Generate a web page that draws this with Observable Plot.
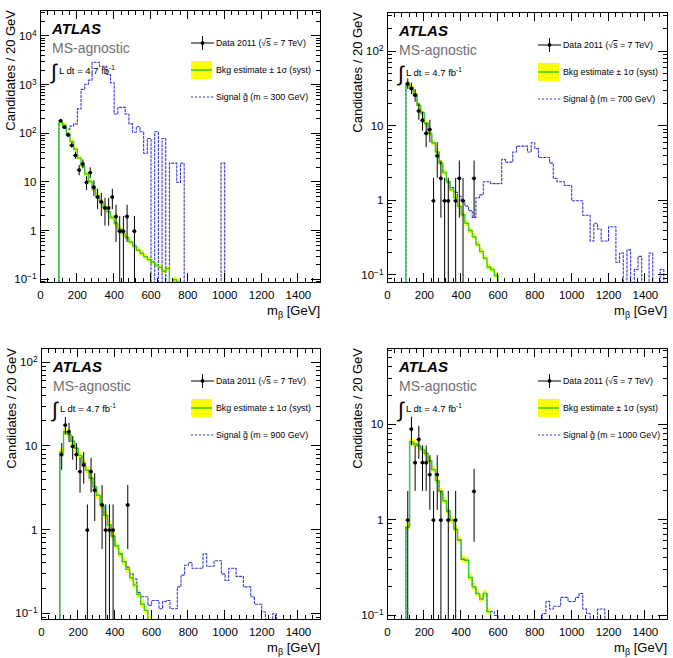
<!DOCTYPE html>
<html><head><meta charset="utf-8">
<script src="https://cdn.jsdelivr.net/npm/d3@7"></script>
<script src="https://cdn.jsdelivr.net/npm/@observablehq/plot@0.6"></script>
<style>
body{margin:0;background:#fff;}
#wrap{position:relative;width:673px;height:658px;background:#fff;}
#wrap svg{position:absolute;}
</style></head><body><div id="wrap"></div>
<script>
const FONT = "'Liberation Sans', Arial, Helvetica, sans-serif";
const binStart = 100, binWidth = 20, FLOOR = 1e-4;
const xTicks = [0,200,400,600,800,1000,1200,1400];
const xDomain = [0,1520];

// m = 300 GeV panel
const bkgM300 = [172,148,100,70,48,32,22,15,10.5,7.3,5.4,4.0,3.1,2.5,1.9,1.45,1.12,0.9,0.74,0.6,0.5,0.41,0.35,0.3,0.26,0.23,0.2,0.18,0.15,0.17,0.03,0.1,0.09];
const sigM300 = [172,148,125,145,160,325,820,1040,1270,2950,2950,2450,2450,1660,1120,255,350,350,255,160,108,140,110,40,80,0,110,0,80,0,25,25,10,25,0,0,0,0,0,0,0,0,0,0,25];
const dataMassM300 = [110,130,150,170,190,210,230,250,270,290,310,330,350,370,390,410,430,450,470,510];
const dataCountM300 = [185,137,95,58,36,18,24,10,16,8,5,4,3,3,5,2,1,1,2,1];

// m = 700 GeV panel
const bkgM700 = [36,33,27,19,15,11,8,6,4.5,3.2,2.4,1.8,1.4,1.1,0.85,0.65,0.5,0.4,0.33,0.26,0.21,0.17,0.13,0.12,0.1];
const sigM700 = [36,33,27,19,15,11,8,6,4.5,3.2,2.4,1.8,1.5,1.3,1.15,1.0,0.85,0.74,0.6,1.1,1.2,1.8,1.8,1.7,1.7,1.7,3.6,3.3,3.3,4.5,5.4,5.4,5.4,4.5,6.0,5.0,3.8,3.8,3.8,3.2,2.0,1.8,1.8,1.6,1.6,1.0,1.0,1.0,0.64,0.64,0.29,0.5,0.42,0.29,0.29,0.45,0.45,0.15,0.2,0.05,0.22,0.05,0.12,0.18,0.05,0.05,0.2,0.05,0.05,0.12];
const dataMassM700 = [110,130,150,170,190,210,230,250,270,290,310,330,370,390,410,470];
const dataCountM700 = [37,32,26,16,12,8,9,1,4,2,1,1,1,2,1,2];

// m = 900 GeV panel
const bkgM900 = [8.5,15,14,11.5,9.5,7.8,6.3,5.2,4.2,3.3,2.6,2.0,1.5,1.15,0.85,0.65,0.52,0.42,0.34,0.27,0.22,0.17,0.13,0.11,0.085];
const sigM900 = [8.5,15,14,11.5,9.5,7.8,6.3,5.2,4.2,3.3,2.6,2.0,1.5,1.15,0.85,0.65,0.52,0.42,0.36,0.3,0.26,0.18,0.16,0.16,0.126,0.144,0.144,0.115,0.14,0.144,0.115,0.115,0.21,0.29,0.38,0.41,0.35,0.35,0.35,0.52,0.37,0.37,0.43,0.43,0.30,0.25,0.35,0.35,0.28,0.28,0.21,0.21,0.16,0.13,0.13,0.105,0,0,0.1,0];
const dataMassM900 = [110,130,150,170,190,210,230,250,270,290,330,350,370,390,470];
const dataCountM900 = [8,18,15,10,8,5,6,1,5,3,2,1,1,1,2];

// m = 1000 GeV panel
const bkgM1000 = [0.85,6.6,6.3,6.0,5.5,5.0,4.2,3.4,2.6,2.0,1.6,1.25,1.0,0.8,0.62,0.39,0.38,0.25,0.2,0.17,0.15,0.17,0.11,0.08];
const sigM1000 = [0.85,6.6,6.3,6.0,5.5,5.0,4.2,3.4,2.6,2.0,1.6,1.25,1.0,0.8,0.62,0.39,0.38,0.25,0.2,0.17,0.15,0.17,0.11,0.11,0.1,0,0,0,0,0,0,0,0,0,0,0,0,0.105,0.14,0.117,0.125,0.125,0.155,0.155,0.14,0.14,0.155,0.17,0.117,0.105,0,0,0.117,0.117];
const dataMassM1000 = [110,130,150,170,190,210,230,250,270,290,330,370,470];
const dataCountM1000 = [1,9,4,7,4,4,3,1,3,1,1,1,2];

const systFrac = [0.12, 0.09, 0.10, 0.08];
const signalMass = ["300", "700", "900", "1000"];

const panels = [
  {left:0, top:0, w:336, h:330, ml:40, mr:16, mt:10, mb:48, yDomain:[0.088, 34200], bkg:bkgM300, sig:sigM300, dm:dataMassM300, dc:dataCountM300},
  {left:336, top:0, w:337, h:330, ml:51, mr:6, mt:12, mb:48, yDomain:[0.0805, 333], bkg:bkgM700, sig:sigM700, dm:dataMassM700, dc:dataCountM700},
  {left:0, top:330, w:336, h:328, ml:41, mr:16, mt:18, mb:39, yDomain:[0.0855, 148], bkg:bkgM900, sig:sigM900, dm:dataMassM900, dc:dataCountM900},
  {left:336, top:330, w:337, h:328, ml:51, mr:6, mt:18, mb:39, yDomain:[0.0908, 63], bkg:bkgM1000, sig:sigM1000, dm:dataMassM1000, dc:dataCountM1000}
];

const GREEN = "#33cc33", YELLOW = "#ffff00", BLUE = "#3535d5";

function steps(values) {
  const pts = [{x: binStart, y: FLOOR}];
  values.forEach((v, i) => {
    const lo = binStart + i * binWidth, hi = lo + binWidth;
    const y = v > 0 ? v : FLOOR;
    pts.push({x: lo, y}, {x: hi, y});
  });
  pts.push({x: binStart + values.length * binWidth, y: FLOOR});
  return pts;
}

function fmtY(d) {
  const e = Math.round(Math.log10(d));
  if (e === 0) return "1";
  if (e === 1) return "10";
  return "10^" + e;
}

const wrap = document.getElementById("wrap");

panels.forEach((p, idx) => {
  const {w, h, ml, mr, mt, mb, yDomain} = p;
  const fw = w - ml - mr, fh = h - mt - mb;
  const syst = systFrac[idx];
  const band = p.bkg.map((v, i) => ({lo: binStart + i * binWidth, hi: binStart + (i + 1) * binWidth, v}))
    .filter(d => d.v > 0)
    .map(d => ({lo: d.lo, hi: d.hi, y1: d.v * (1 - syst), y2: d.v * (1 + syst)}));
  const data = p.dm.map((m, i) => ({m, n: p.dc[i]}));
  const lo = Math.log10(yDomain[0]), hi = Math.log10(yDomain[1]);
  const yMajor = [], yMinor = [];
  for (let e = Math.floor(lo); e <= Math.ceil(hi); e++) {
    const b = Math.pow(10, e);
    if (b >= yDomain[0] && b <= yDomain[1]) yMajor.push(b);
    for (let k = 2; k <= 9; k++) { const v = k * b; if (v >= yDomain[0] && v <= yDomain[1]) yMinor.push(v); }
  }
  const xMinor = d3.range(40, 1520, 40).filter(v => v % 200 !== 0);

  const svg = Plot.plot({
    width: w, height: h, marginLeft: ml, marginRight: mr, marginTop: mt, marginBottom: mb,
    x: {domain: xDomain, label: null},
    y: {type: "log", domain: yDomain, label: null},
    style: {fontFamily: FONT, fontSize: "11.5px", color: "black", background: "white", overflow: "visible"},
    marks: [
      Plot.rect(band, {x1: "lo", x2: "hi", y1: "y1", y2: "y2", fill: YELLOW, clip: true}),
      Plot.line(steps(p.sig), {x: "x", y: "y", stroke: BLUE, strokeWidth: 1.1, strokeDasharray: "2.2,1.8", clip: true}),
      Plot.line(steps(p.bkg), {x: "x", y: "y", stroke: GREEN, strokeWidth: 1.4, clip: true}),
      Plot.ruleX(data, {x: "m", y1: d => Math.max(d.n - Math.sqrt(d.n), FLOOR), y2: d => d.n + Math.sqrt(d.n), stroke: "black", strokeWidth: 1, clip: true}),
      Plot.ruleY(data, {y: "n", x1: d => d.m - binWidth / 2, x2: d => d.m + binWidth / 2, stroke: "black", strokeWidth: 1, clip: true}),
      Plot.dot(data, {x: "m", y: "n", r: 1.9, fill: "black", stroke: null}),
      Plot.frame({stroke: "black", strokeWidth: 1}),
      Plot.axisX({ticks: xTicks, tickSize: 0, tickPadding: 8, tickFormat: d => String(d), label: null}),
      Plot.axisY({ticks: yMajor, tickSize: 0, tickPadding: 4, tickFormat: fmtY, label: null})
    ]
  });
  svg.style.left = p.left + "px";
  svg.style.top = p.top + "px";

  const s = d3.select(svg);
  s.selectAll('g[aria-label="y-axis tick label"] text').each(function () {
    const t = this.textContent;
    if (t.includes("^")) {
      const [b, e] = t.split("^");
      const sel = d3.select(this);
      sel.text(b);
      sel.append("tspan").attr("dy", "-0.5em").attr("font-size", "0.72em").text(e.replace("-", "\u2212"));
    }
  });

  // inward ticks on all four sides, positioned with Plot's own scales
  const X = svg.scale("x"), Y = svg.scale("y");
  const tg = s.append("g").attr("stroke", "black").attr("stroke-width", 1).attr("shape-rendering", "crispEdges");
  const tick = (x1, y1, x2, y2) => tg.append("line").attr("x1", x1).attr("y1", y1).attr("x2", x2).attr("y2", y2);
  const yb = mt + fh, yt = mt, xl = ml, xr = ml + fw;
  xTicks.forEach(v => { const px = X.apply(v); tick(px, yb, px, yb - 9); tick(px, yt, px, yt + 9); });
  xMinor.forEach(v => { const px = X.apply(v); tick(px, yb, px, yb - 4.5); tick(px, yt, px, yt + 4.5); });
  yMajor.forEach(v => { const py = Y.apply(v); tick(xl, py, xl + 9, py); tick(xr, py, xr - 9, py); });
  yMinor.forEach(v => { const py = Y.apply(v); tick(xl, py, xl + 4.5, py); tick(xr, py, xr - 4.5, py); });

  const g = s.append("g").attr("font-family", FONT).attr("text-anchor", "start").attr("fill", "black");
  // axis titles
  g.append("text").attr("transform", `translate(${ml - 25},${mt}) rotate(-90)`)
    .attr("text-anchor", "end").attr("font-size", 13).text("Candidates / 20 GeV");
  const xt = g.append("text").attr("x", ml + fw).attr("y", mt + fh + 33).attr("text-anchor", "end").attr("font-size", 13);
  xt.append("tspan").text("m");
  xt.append("tspan").attr("font-size", 9).attr("dy", 3).text("\u03b2");
  xt.append("tspan").attr("dy", -3).text(" [GeV]");

  // labels
  g.append("text").attr("x", ml + 12).attr("y", mt + 24).attr("font-size", 15).attr("font-weight", "bold").attr("font-style", "italic").text("ATLAS");
  g.append("text").attr("x", ml + 12).attr("y", mt + 43).attr("font-size", 14).attr("fill", "#707070").text("MS-agnostic");
  g.append("text").attr("x", ml + 11).attr("y", mt + 69).attr("font-size", 21).text("\u222b");
  const lum = g.append("text").attr("x", ml + 19).attr("y", mt + 64).attr("font-size", 9.5);
  lum.append("tspan").text("L dt = 4.7 fb");
  lum.append("tspan").attr("dy", -4).attr("font-size", 6.5).text("-1");

  // legend
  const R = ml + fw, sx0 = R - 129, sx1 = R - 106, tx = R - 104;
  const yD = mt + 33;
  g.append("line").attr("x1", sx0).attr("x2", sx1).attr("y1", yD).attr("y2", yD).attr("stroke", "black");
  g.append("line").attr("x1", (sx0 + sx1) / 2).attr("x2", (sx0 + sx1) / 2).attr("y1", yD - 7).attr("y2", yD + 7).attr("stroke", "black");
  g.append("circle").attr("cx", (sx0 + sx1) / 2).attr("cy", yD).attr("r", 1.9).attr("fill", "black");
  const t1 = g.append("text").attr("x", tx).attr("y", yD + 3).attr("font-size", 8.8);
  t1.append("tspan").text("Data 2011 (\u221a");
  t1.append("tspan").style("text-decoration", "overline").text("s");
  t1.append("tspan").text(" = 7 TeV)");

  const yB = mt + 51;
  g.append("rect").attr("x", sx0).attr("y", yB).attr("width", 21).attr("height", 18).attr("fill", YELLOW);
  g.append("line").attr("x1", sx0).attr("x2", sx0 + 21).attr("y1", yB + 9).attr("y2", yB + 9).attr("stroke", GREEN).attr("stroke-width", 1.5);
  g.append("text").attr("x", tx).attr("y", yB + 12).attr("font-size", 8.8).text("Bkg estimate \u00b1 1\u03c3 (syst)");

  const yS = mt + 87;
  g.append("line").attr("x1", sx0).attr("x2", sx1).attr("y1", yS).attr("y2", yS).attr("stroke", BLUE).attr("stroke-width", 1.1).attr("stroke-dasharray", "2.2,1.8");
  g.append("text").attr("x", tx).attr("y", yS + 3).attr("font-size", 8.8).text("Signal g\u0303 (m = " + signalMass[idx] + " GeV)");

  wrap.appendChild(svg);
});
</script></body></html>
